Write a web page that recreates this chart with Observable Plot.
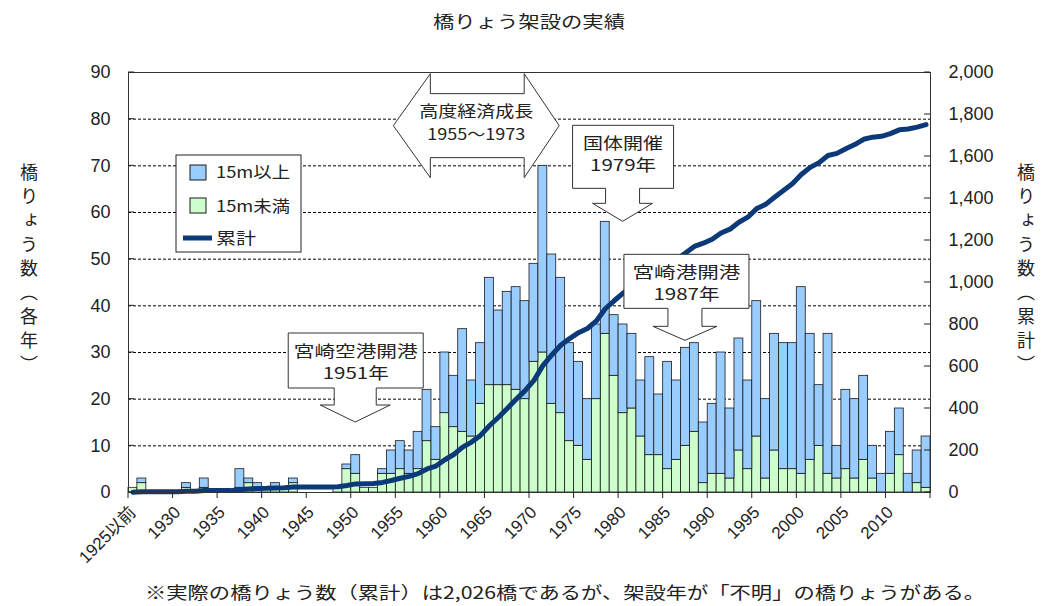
<!DOCTYPE html>
<html><head><meta charset="utf-8">
<script src="https://cdn.jsdelivr.net/npm/d3@7"></script>
<script src="https://cdn.jsdelivr.net/npm/@observablehq/plot@0.6"></script>
<style>
body{margin:0;background:#fff;}
#chart svg{display:block;}
</style>
</head><body><div id="chart"></div>
<script>
// ---- data ----
const categories = ["1925以前","1926","1927","1928","1929","1930","1931","1932","1933","1934",
"1935","1936","1937","1938","1939","1940","1941","1942","1943","1944",
"1945","1946","1947","1948","1949","1950","1951","1952","1953","1954",
"1955","1956","1957","1958","1959","1960","1961","1962","1963","1964",
"1965","1966","1967","1968","1969","1970","1971","1972","1973","1974",
"1975","1976","1977","1978","1979","1980","1981","1982","1983","1984",
"1985","1986","1987","1988","1989","1990","1991","1992","1993","1994",
"1995","1996","1997","1998","1999","2000","2001","2002","2003","2004",
"2005","2006","2007","2008","2009","2010","2011","2012","2013","2014"];

// 15m未満 (green, bottom)
const under15 = [1,2,0,0,0,0,1,0,1,0, 0,0,1,2,1,1,1,1,2,0, 0,0,0,1,5,4,1,1,4,4,
5,4,5,11,7,17,14,13,12,19, 23,23,23,22,20,28,30,19,17,11, 10,7,20,34,25,17,18,12,8,8,
5,7,10,13,2,4,4,3,9,5, 12,3,9,5,5,4,7,10,4,3, 5,3,7,3,0,4,8,0,2,1];

// 15m以上 (blue, top)
const over15 = [0,1,0,0,0,0,1,0,2,0, 0,0,4,1,1,0,1,0,1,0, 0,0,0,0,1,4,0,0,1,5,
6,5,8,11,7,13,11,22,12,13, 23,16,20,22,21,21,40,32,29,21, 18,13,16,24,13,19,16,12,21,13,
23,17,21,19,13,15,26,15,24,19, 29,17,25,27,27,40,27,13,30,7, 17,17,18,7,4,9,10,4,7,11];

// 累計 (right axis)
const cumulative = [1,4,4,4,4,4,6,6,9,9, 9,9,14,17,19,20,22,23,26,26, 26,26,26,27,33,41,42,43,48,57,
68,77,90,112,126,156,181,216,240,272, 318,357,400,444,485,534,604,655,701,733,
761,781,817,875,913,949,983,1007,1036,1057, 1085,1109,1140,1172,1187,1206,1236,1254,1287,1311,
1352,1372,1406,1438,1470,1514,1548,1571,1605,1615, 1637,1657,1682,1692,1696,1709,1727,1731,1740,1752];

const leftTicks = [0,10,20,30,40,50,60,70,80,90];
const rightTicks = [0,200,400,600,800,1000,1200,1400,1600,1800,2000];
const gridValues = [10,20,30,40,50,60,70,80];
const xLabelCats = ["1925以前","1930","1935","1940","1945","1950","1955","1960","1965","1970","1975","1980","1985","1990","1995","2000","2005","2010"];

const seriesNames = ["15m以上","15m未満","累計"];
const titleText = "橋りょう架設の実績";
const leftLabel = "橋りょう数（各年）";
const rightLabel = "橋りょう数（累計）";
const captionText = "※実際の橋りょう数（累計）は2,026橋であるが、架設年が「不明」の橋りょうがある。";

// ---- styling ----
const BLUE = "#99ccff", GREEN = "#ccffcc", NAVY = "#0c3a78", EDGE = "#1a1a1a";
const FONT = '"Liberation Sans", Arial, "Noto Sans CJK JP", sans-serif';
const JFONT = '"Noto Sans CJK JP", "Liberation Sans", sans-serif';
const K = 90 / 2000; // right axis -> left axis

const rows = categories.map((c, i) => ({cat: c, under: under15[i], over: over15[i], cum: cumulative[i]}));

const plot = Plot.plot({
  width: 1050, height: 606,
  marginLeft: 128, marginRight: 120, marginTop: 72, marginBottom: 114,
  style: {fontFamily: FONT, fontSize: "18px", color: "#222", background: "#fff", overflow: "visible"},
  x: {type: "band", domain: categories, padding: 0, label: null},
  y: {domain: [0, 90], label: null},
  marks: [
    Plot.ruleY(gridValues, {stroke: "#000", strokeDasharray: "3,2", strokeWidth: 1}),
    Plot.barY(rows.filter(d => d.under > 0), {x: "cat", y1: 0, y2: "under", fill: GREEN, stroke: EDGE, strokeWidth: 0.8}),
    Plot.barY(rows.filter(d => d.over > 0), {x: "cat", y1: "under", y2: d => d.under + d.over, fill: BLUE, stroke: EDGE, strokeWidth: 0.8}),
    Plot.line(rows, {x: "cat", y: d => d.cum * K, stroke: NAVY, strokeWidth: 5, strokeLinejoin: "round", strokeLinecap: "round"}),
    Plot.frame({stroke: "#333", strokeWidth: 1}),
    Plot.axisY(leftTicks, {anchor: "left", tickSize: 0, tickPadding: 18, label: null}),
    Plot.axisY(rightTicks.map(v => v * K), {anchor: "right", tickSize: 0, tickPadding: 18, label: null,
      tickFormat: d => d3.format(",")(Math.round(d / K))}),
    Plot.axisX(xLabelCats, {tickRotate: -45, tickSize: 0, tickPadding: 17, label: null, fontSize: 17})
  ]
});
document.getElementById("chart").appendChild(plot);

// ---- decorations positioned through Plot's scales ----
const svg = d3.select(plot);
const xs = plot.scale("x"), ys = plot.scale("y");
const bw = xs.bandwidth ?? ((xs.range[1] - xs.range[0]) / categories.length);
const xl = c => xs.apply(c);
const xc = c => xs.apply(c) + bw / 2;
const yv = v => ys.apply(v);
const x0 = xl(categories[0]), x1 = xl(categories[categories.length - 1]) + bw;
const yBase = yv(0);

const g = svg.append("g");
categories.forEach((c, i) => {
  if (i % 5 === 0) g.append("line").attr("x1", xl(c)).attr("x2", xl(c)).attr("y1", yBase).attr("y2", yBase + 6).attr("stroke", "#222");
});
g.append("line").attr("x1", x1).attr("x2", x1).attr("y1", yBase).attr("y2", yBase + 6).attr("stroke", "#222");
leftTicks.forEach(v => g.append("line").attr("x1", x0).attr("x2", x0 + 6).attr("y1", yv(v)).attr("y2", yv(v)).attr("stroke", "#222"));
rightTicks.forEach(v => g.append("line").attr("x1", x1 - 6).attr("x2", x1).attr("y1", yv(v * K)).attr("y2", yv(v * K)).attr("stroke", "#222"));

// title / caption
svg.append("text").attr("x", 529).attr("y", 28).attr("text-anchor", "middle")
  .attr("font-family", JFONT).attr("font-size", 17).attr("fill", "#222")
  .attr("textLength", 192).attr("lengthAdjust", "spacingAndGlyphs").text(titleText);
svg.append("text").attr("x", 565).attr("y", 599).attr("text-anchor", "middle")
  .attr("font-family", JFONT).attr("font-size", 17).attr("fill", "#222")
  .attr("textLength", 840).attr("lengthAdjust", "spacingAndGlyphs").text(captionText);

// vertical axis titles
function vlabel(x, txt) {
  svg.append("text").attr("x", x).attr("y", 163).attr("text-anchor", "start")
    .attr("font-family", JFONT).attr("font-size", 18).attr("fill", "#222")
    .style("writing-mode", "vertical-rl").style("letter-spacing", "6px").text(txt);
}
vlabel(29, leftLabel);
vlabel(1026, rightLabel);

// legend
const lg = svg.append("g").attr("text-anchor", "start");
lg.append("rect").attr("x", 176).attr("y", 155).attr("width", 125).attr("height", 97).attr("fill", "#fff").attr("stroke", "#222");
lg.append("rect").attr("x", 190).attr("y", 165).attr("width", 16).attr("height", 15).attr("fill", BLUE).attr("stroke", EDGE);
lg.append("rect").attr("x", 190).attr("y", 198).attr("width", 16).attr("height", 15).attr("fill", GREEN).attr("stroke", EDGE);
lg.append("line").attr("x1", 183).attr("x2", 212).attr("y1", 238).attr("y2", 238).attr("stroke", NAVY).attr("stroke-width", 5);
[[seriesNames[0], 178, 74], [seriesNames[1], 212, 74], [seriesNames[2], 244, 40]].forEach(([t, y, L]) =>
  lg.append("text").attr("x", 216).attr("y", y).attr("text-anchor", "start").attr("font-family", JFONT)
    .attr("font-size", 16).attr("fill", "#222").attr("textLength", L).attr("lengthAdjust", "spacingAndGlyphs").text(t));

// callouts (down arrow)
const callouts = [
  {cat: "1950", value: 15, lines: ["宮崎空港開港", "1951年"], widths: [124, 66], left: -67, right: 68, top: -89, bottom: -34, headY: -17, head: 35, shaft: 21},
  {cat: "1980", value: 58, lines: ["国体開催", "1979年"], widths: [80, 66], left: -50, right: 51, top: -96, bottom: -33, headY: -18, head: 30, shaft: 17},
  {cat: "1987", value: 32.5, lines: ["宮崎港開港", "1987年"], widths: [108, 66], left: -61, right: 64, top: -86, bottom: -32, headY: -14, head: 32, shaft: 17}
];
const ag = svg.append("g");
callouts.forEach(c => {
  const tx = xc(c.cat), ty = yv(c.value);
  const p = d3.path();
  p.moveTo(tx + c.left, ty + c.top);
  p.lineTo(tx + c.right, ty + c.top);
  p.lineTo(tx + c.right, ty + c.bottom);
  p.lineTo(tx + c.shaft, ty + c.bottom);
  p.lineTo(tx + c.shaft, ty + c.headY);
  p.lineTo(tx + c.head, ty + c.headY);
  p.lineTo(tx, ty);
  p.lineTo(tx - c.head, ty + c.headY);
  p.lineTo(tx - c.shaft, ty + c.headY);
  p.lineTo(tx - c.shaft, ty + c.bottom);
  p.lineTo(tx + c.left, ty + c.bottom);
  p.closePath();
  ag.append("path").attr("d", p.toString()).attr("fill", "#fff").attr("stroke", "#333").attr("stroke-width", 1);
  const cx = tx + (c.left + c.right) / 2;
  c.lines.forEach((t, k) => ag.append("text").attr("x", cx).attr("y", ty + c.top + 24 + k * 22)
    .attr("text-anchor", "middle").attr("font-family", JFONT).attr("font-size", 16).attr("fill", "#222")
    .attr("textLength", c.widths[k]).attr("lengthAdjust", "spacingAndGlyphs").text(t));
});

// double arrow 高度経済成長 1955～1973
{
  const lx = xl("1955") - 2, rx = xc("1973") - 1, cy = yv(78.5);
  const H = 52, S = 32, hl = 37, hr = 35;
  const p = d3.path();
  p.moveTo(lx, cy);
  p.lineTo(lx + hl, cy - H);
  p.lineTo(lx + hl, cy - S);
  p.lineTo(rx - hr, cy - S);
  p.lineTo(rx - hr, cy - H);
  p.lineTo(rx, cy);
  p.lineTo(rx - hr, cy + H);
  p.lineTo(rx - hr, cy + S);
  p.lineTo(lx + hl, cy + S);
  p.lineTo(lx + hl, cy + H);
  p.closePath();
  ag.append("path").attr("d", p.toString()).attr("fill", "#fff").attr("stroke", "#333").attr("stroke-width", 1);
  const mx = (lx + rx) / 2;
  ag.append("text").attr("x", mx).attr("y", cy - 9).attr("text-anchor", "middle").attr("font-family", JFONT)
    .attr("font-size", 16).attr("fill", "#222").attr("textLength", 114).attr("lengthAdjust", "spacingAndGlyphs").text("高度経済成長");
  ag.append("text").attr("x", mx).attr("y", cy + 14).attr("text-anchor", "middle").attr("font-family", JFONT)
    .attr("font-size", 16).attr("fill", "#222").attr("textLength", 98).attr("lengthAdjust", "spacingAndGlyphs").text("1955～1973");
}
</script>
</body></html>
